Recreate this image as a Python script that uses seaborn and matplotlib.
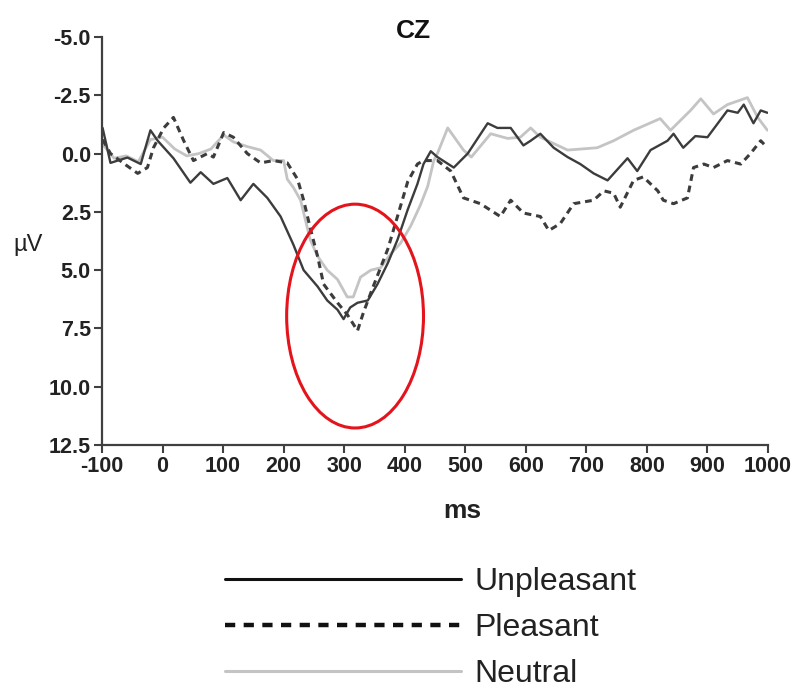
import numpy as np
import pandas as pd
import matplotlib
matplotlib.use("Agg")
import matplotlib.pyplot as plt
from matplotlib.patches import Ellipse
import seaborn as sns

# Grand-average ERP at electrode CZ (time in ms, amplitude in microvolts)
unpleasant_ms = [-99, -86, -74, -58, -36, -20, -8, 18, 46, 63, 84, 107, 129, 150, 173,
                 195, 216, 233, 256, 272, 289, 299, 310, 322, 339, 355, 372, 388, 405,
                 421, 431, 443, 454, 481, 504, 537, 553, 575, 596, 608, 624, 646, 669,
                 690, 712, 735, 768, 784, 806, 834, 844, 860, 880, 900, 933, 950, 960,
                 976, 988, 999]
unpleasant_uv = [-1.1, 0.4, 0.3, 0.17, 0.45, -1.0, -0.55, 0.2, 1.25, 0.8, 1.3, 1.05, 2.0,
                 1.3, 1.9, 2.7, 3.9, 5.0, 5.7, 6.3, 6.7, 7.1, 6.6, 6.4, 6.3, 5.6, 4.7,
                 3.7, 2.4, 1.3, 0.45, -0.1, 0.15, 0.6, 0.0, -1.3, -1.1, -1.1, -0.35,
                 -0.55, -0.85, -0.25, 0.15, 0.45, 0.85, 1.15, 0.2, 0.75, -0.15, -0.55,
                 -0.85, -0.25, -0.75, -0.7, -1.85, -1.75, -2.1, -1.3, -1.85, -1.75]

pleasant_ms = [-99, -86, -60, -41, -25, -15, 2, 18, 35, 51, 74, 84, 101, 117, 140, 162,
               183, 206, 223, 233, 244, 256, 266, 289, 305, 322, 332, 348, 372, 388, 405,
               421, 431, 454, 476, 497, 525, 558, 575, 596, 624, 638, 657, 679, 712, 729,
               745, 756, 778, 794, 818, 827, 844, 867, 877, 894, 910, 933, 955, 971, 988,
               999]
pleasant_uv = [-0.6, 0.0, 0.5, 0.85, 0.6, -0.25, -1.1, -1.55, -0.55, 0.3, 0.0, 0.15, -0.9,
               -0.7, 0.0, 0.4, 0.3, 0.4, 1.1, 2.0, 3.2, 4.4, 5.6, 6.4, 6.9, 7.6, 6.8, 5.7,
               4.1, 2.7, 1.2, 0.45, 0.3, 0.3, 0.75, 1.9, 2.15, 2.7, 2.0, 2.55, 2.7, 3.3,
               3.0, 2.15, 2.0, 1.6, 1.7, 2.3, 1.15, 1.0, 1.6, 2.0, 2.15, 1.9, 0.6, 0.45,
               0.6, 0.3, 0.45, 0.0, -0.55, -0.25]

neutral_ms = [-99, -80, -60, -40, -20, 0, 20, 40, 60, 80, 101, 117, 140, 162, 183, 200,
              206, 216, 228, 244, 256, 272, 289, 305, 315, 327, 344, 360, 377, 393, 410,
              426, 438, 448, 454, 471, 497, 510, 542, 570, 591, 608, 624, 669, 718, 745,
              778, 822, 839, 872, 889, 910, 933, 966, 983, 999]
neutral_uv = [-0.4, 0.2, 0.1, 0.35, -0.6, -0.7, -0.2, 0.1, 0.0, -0.2, -0.8, -0.5, -0.3,
              -0.15, 0.3, 0.3, 1.1, 1.45, 2.0, 3.7, 4.4, 5.0, 5.4, 6.15, 6.15, 5.3, 5.0,
              4.9, 4.3, 3.85, 3.1, 2.2, 1.4, 0.3, 0.0, -1.1, -0.15, 0.15, -0.85, -0.65,
              -0.7, -1.1, -0.7, -0.15, -0.25, -0.55, -1.0, -1.5, -1.0, -1.85, -2.35, -1.7,
              -2.1, -2.4, -1.55, -1.0]

conditions = ["Unpleasant", "Pleasant", "Neutral"]
x_ticks = [-100, 0, 100, 200, 300, 400, 500, 600, 700, 800, 900, 1000]
x_ticklabels = ["-100", "0", "100", "200", "300", "400", "500", "600", "700", "800",
                "900", "1000"]
y_ticks = [-5.0, -2.5, 0.0, 2.5, 5.0, 7.5, 10.0, 12.5]
y_ticklabels = ["-5.0", "-2.5", "0.0", "2.5", "5.0", "7.5", "10.0", "12.5"]

# highlighted P300 window (centre ms, centre uV, width ms, height uV)
roi_center = (318, 6.97)
roi_size = (226, 9.6)

sns.set_theme(style="ticks")
plt.rcParams["font.family"] = ["Liberation Sans", "DejaVu Sans"]
plt.rcParams["axes.unicode_minus"] = False

fig = plt.figure(figsize=(7.94, 6.93), dpi=100)
ax = fig.add_axes([102 / 794, 1 - 445 / 693, 666 / 794, 408 / 693])

series = {
    "Unpleasant": (unpleasant_ms, unpleasant_uv),
    "Pleasant": (pleasant_ms, pleasant_uv),
    "Neutral": (neutral_ms, neutral_uv),
}
styles = {
    "Unpleasant": dict(color="#3c3c3c", lw=1.7, ls="-"),
    "Pleasant": dict(color="#3c3c3c", lw=2.2, ls=(0, (2.2, 1.6))),
    "Neutral": dict(color="#c4c4c4", lw=2.0, ls="-"),
}
# draw neutral first so the darker traces sit on top
for name in ["Neutral", "Pleasant", "Unpleasant"]:
    t, v = series[name]
    df = pd.DataFrame({"ms": t, "uV": v})
    st = styles[name]
    sns.lineplot(data=df, x="ms", y="uV", ax=ax, color=st["color"], linewidth=st["lw"],
                 linestyle=st["ls"], estimator=None, sort=False, label=name,
                 legend=False)

ax.add_patch(Ellipse(roi_center, roi_size[0], roi_size[1], fill=False,
                     edgecolor="#e3141b", linewidth=2.2, zorder=5))

ax.set_xlim(-100, 1000)
ax.set_ylim(12.5, -5.0)
ax.set_xticks(x_ticks)
ax.set_xticklabels(x_ticklabels)
ax.set_yticks(y_ticks)
ax.set_yticklabels(y_ticklabels)
ax.set_xlabel("")
ax.set_ylabel("")
for s in ["top", "right"]:
    ax.spines[s].set_visible(False)
for s in ["left", "bottom"]:
    ax.spines[s].set_color("#404040")
    ax.spines[s].set_linewidth(1.6)
ax.tick_params(axis="both", direction="out", length=6, width=1.5, color="#404040",
               labelsize=15.5, labelcolor="#222222", pad=2)
for lab in ax.get_xticklabels() + ax.get_yticklabels():
    lab.set_fontweight("bold")

fig.text(413 / 794, 1 - 31 / 693, "CZ", ha="center", va="center", fontsize=19,
         fontweight="bold", color="#111111")
fig.text(28 / 794, 1 - 245 / 693, "µV", ha="center", va="center", fontsize=17,
         color="#222222")
fig.text(462 / 794, 1 - 511 / 693, "ms", ha="center", va="center", fontsize=19,
         fontweight="bold", color="#222222")

# legend below the axes, in the order of the conditions
handles, labels = ax.get_legend_handles_labels()
order = [labels.index(c) for c in conditions]
leg = fig.legend([handles[i] for i in order], [labels[i] for i in order],
                 loc="upper left", bbox_to_anchor=(225 / 794, 1 - 567 / 693),
                 frameon=False, fontsize=23, handlelength=7.4, handletextpad=0.4,
                 labelspacing=0.5, borderpad=0, borderaxespad=0)
for t in leg.get_texts():
    t.set_color("#222222")
leg_lines = leg.get_lines()
leg_lines[0].set_color("#111111")
leg_lines[0].set_linewidth(2.2)
leg_lines[1].set_color("#111111")
leg_lines[1].set_linewidth(3.2)
leg_lines[1].set_linestyle((0, (2.3, 1.9)))
leg_lines[2].set_linewidth(2.2)

fig.savefig("out.png", dpi=100)
